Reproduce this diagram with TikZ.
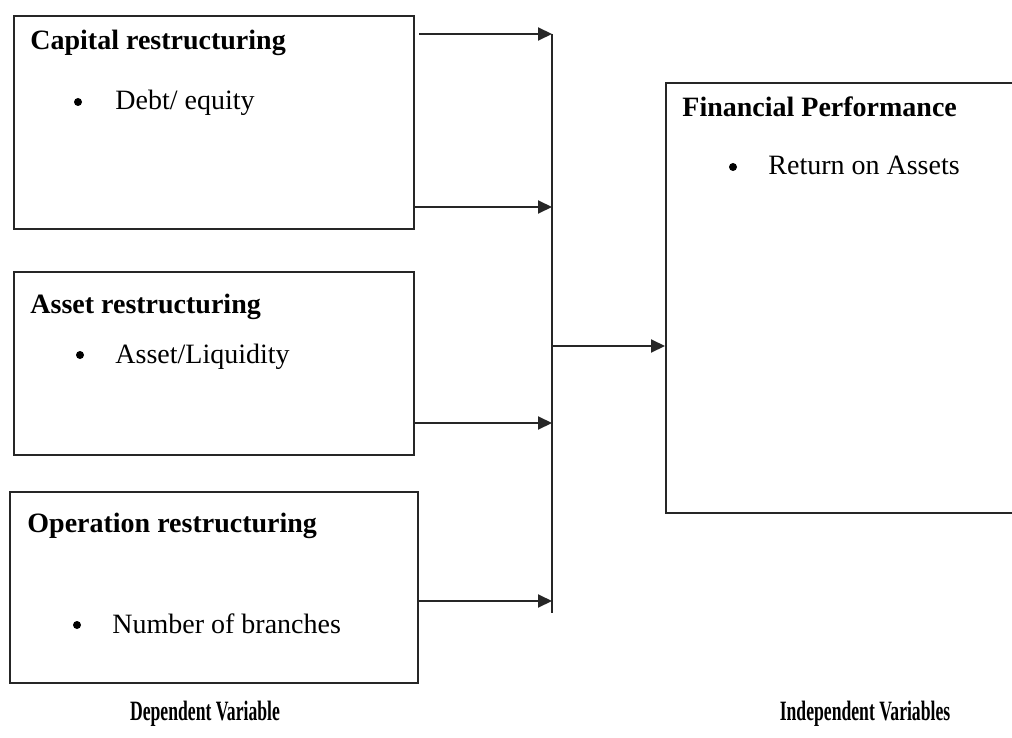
\documentclass[tikz,border=0pt]{standalone}
\usepackage{fontspec}
\setmainfont{Liberation Serif}
\usetikzlibrary{arrows.meta}
\begin{document}
\begin{tikzpicture}[x=0.5pt,y=-0.5pt,
  box/.style={draw=black!85, line width=1pt, inner sep=0, anchor=north west},
  ttl/.style={anchor=base west, inner sep=0, font=\fontsize{14}{17}\selectfont\bfseries},
  itm/.style={anchor=base west, inner sep=0, font=\fontsize{14}{17}\selectfont},
  bul/.style={circle, fill=black, inner sep=0, minimum size=4pt},
  conn/.style={line width=1pt, draw=black!85},
  arr/.style={conn, -{Triangle[length=7pt,width=6.5pt]}},
  lbl/.style={anchor=base, inner sep=0, font=\fontsize{14}{17}\selectfont\bfseries}]
\clip (0,0) rectangle (1012,738);
\fill[white] (0,0) rectangle (1012,738);
% boxes
\node[box, minimum width=200pt, minimum height=106.5pt] (cap) at (13,15) {};
\node[box, minimum width=200pt, minimum height=91.5pt] (ast) at (13,271) {};
\node[box, minimum width=204pt, minimum height=95.5pt] (opr) at (9,491) {};
\node[box, minimum width=200pt, minimum height=215pt] (fin) at (665,82) {};
% texts
\node[ttl] (t1) at (30,50) {Capital restructuring};
\node[bul] (b1) at (78,102) {};
\node[itm] (i1) at (115,110) {Debt/ equity};
\node[ttl] (t2) at (30,313) {Asset restructuring};
\node[bul] (b2) at (80,355) {};
\node[itm] (i2) at (115,363) {Asset/Liquidity};
\node[ttl] (t3) at (27,532) {Operation restructuring};
\node[bul] (b3) at (77,625) {};
\node[itm] (i3) at (112,633) {Number of branches};
\node[ttl] (t4) at (682,117) {Financial Performance};
\node[bul] (b4) at (733,167) {};
\node[itm] (i4) at (768,175) {Return on Assets};
\node[lbl] (dep) at (205,720) {\scalebox{0.63}[1]{Dependent Variable}};
\node[lbl] (ind) at (865,720) {\scalebox{0.63}[1]{Independent Variables}};
% junctions
\coordinate (j1) at (552,34);
\coordinate (j2) at (552,207);
\coordinate (jm) at (552,346);
\coordinate (j4) at (552,423);
\coordinate (j5) at (552,601);
\coordinate (bot) at (552,613);
\draw[conn] (j1) -- (bot);
\draw[arr, shorten <=2pt] (cap.east |- j1) -- (j1);
\draw[arr] (cap.east |- j2) -- (j2);
\draw[arr] (ast.east |- j4) -- (j4);
\draw[arr] (opr.east |- j5) -- (j5);
\draw[arr] (jm) -- (fin.west |- jm);
\end{tikzpicture}
\end{document}
